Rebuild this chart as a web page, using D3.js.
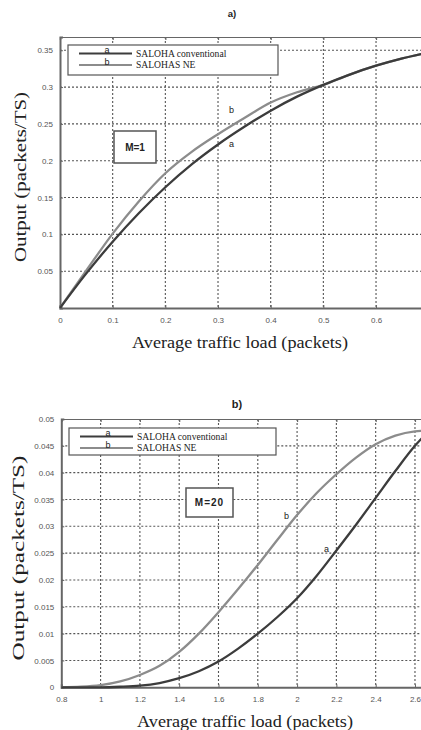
<!DOCTYPE html>
<meta charset="utf-8">
<script src="https://d3js.org/d3.v7.min.js"></script>
<style>
  body { margin: 0; background: #fff; }
  .tick text { font-family: "Liberation Sans", Arial, sans-serif; font-size: 8px; fill: #555; }
  .axis path, .axis line { stroke: #666; }
  .ser { font-family: "Liberation Serif", "Times New Roman", serif; fill: #222; }
  .sans { font-family: "Liberation Sans", Arial, sans-serif; fill: #222; }
</style>
<body>
<div id="chart"></div>
<script>
// ---- panel a) M=1
var loadA = [0, 0.05, 0.1, 0.15, 0.2, 0.25, 0.3, 0.35, 0.4, 0.45, 0.5, 0.55, 0.6, 0.65, 0.7]
var convA = [0, 0.047, 0.090, 0.129, 0.164, 0.195, 0.222, 0.246, 0.268, 0.287, 0.303, 0.317, 0.329, 0.339, 0.347]
var neA   = [0, 0.051, 0.101, 0.145, 0.183, 0.212, 0.236, 0.258, 0.279, 0.293, 0.303, 0.317, 0.329, 0.339, 0.347]
var xTicksA = [0, 0.1, 0.2, 0.3, 0.4, 0.5, 0.6]
var yTicksA = [0.05, 0.1, 0.15, 0.2, 0.25, 0.3, 0.35]

// ---- panel b) M=20
var loadB = [0.8, 0.9, 1.0, 1.1, 1.2, 1.3, 1.4, 1.5, 1.6, 1.7, 1.8, 1.9, 2.0, 2.1, 2.2, 2.3, 2.4, 2.5, 2.6, 2.65]
var convB = [0, 0, 0, 0.0001, 0.0003, 0.0008, 0.0017, 0.0030, 0.0048, 0.0072, 0.0100, 0.0131, 0.0166, 0.0208, 0.0255, 0.0303, 0.0353, 0.0403, 0.0450, 0.0470]
var neB   = [0, 0.0001, 0.0004, 0.0011, 0.0023, 0.0040, 0.0066, 0.0100, 0.0140, 0.0183, 0.0228, 0.0275, 0.0321, 0.0362, 0.0397, 0.0428, 0.0453, 0.0469, 0.0477, 0.0478]
var xTicksB = [0.8, 1, 1.2, 1.4, 1.6, 1.8, 2, 2.2, 2.4, 2.6]
var yTicksB = [0, 0.005, 0.01, 0.015, 0.02, 0.025, 0.03, 0.035, 0.04, 0.045, 0.05]

var legendNames = ["SALOHA conventional", "SALOHAS NE"]
var colA = "#3c3c3c", colB = "#8c8c8c"

var svg = d3.select("#chart").append("svg")
    .attr("width", 421).attr("height", 730)

function panel(p) {
    var x = d3.scaleLinear().domain(p.xd).range([p.left, p.right])
    var y = d3.scaleLinear().domain(p.yd).range([p.bottom, p.top])
    var g = svg.append("g")

    // dotted grid, drawn as plain lines
    g.selectAll(".vgrid").data(p.xg).enter().append("line")
        .attr("class", "vgrid")
        .attr("x1", function(d) { return x(d) })
        .attr("x2", function(d) { return x(d) })
        .attr("y1", p.top).attr("y2", p.bottom)
        .attr("stroke", "#555").attr("stroke-width", 1.1).attr("stroke-dasharray", "2,2")
    g.selectAll(".hgrid").data(p.yg).enter().append("line")
        .attr("class", "hgrid")
        .attr("y1", function(d) { return y(d) })
        .attr("y2", function(d) { return y(d) })
        .attr("x1", p.left).attr("x2", p.right)
        .attr("stroke", "#555").attr("stroke-width", 1.1).attr("stroke-dasharray", "2,2")

    // top border with inner ticks
    g.append("g").attr("class", "axis")
        .attr("transform", "translate(0," + p.top + ")")
        .call(d3.axisTop(x).tickValues(p.xt).tickSize(-3).tickFormat(""))
        .selectAll("path, line").attr("stroke-width", 1.2)

    // bottom axis
    var bx = g.append("g").attr("class", "axis")
        .attr("transform", "translate(0," + p.bottom + ")")
        .call(d3.axisBottom(x).tickValues(p.xt).tickSize(-3).tickPadding(9).tickFormat(d3.format("")))
    bx.select(".domain").attr("stroke-width", 2)

    // left axis
    var ly = g.append("g").attr("class", "axis")
        .attr("transform", "translate(" + p.left + ",0)")
        .call(d3.axisLeft(y).tickValues(p.yt).tickSize(-3).tickPadding(7).tickFormat(d3.format("")))
    ly.select(".domain").attr("stroke-width", 2)

    // curves
    var line = d3.line().curve(d3.curveMonotoneX)
        .x(function(d) { return x(d[0]) })
        .y(function(d) { return y(d[1]) })
    g.append("path").datum(d3.zip(p.load, p.ne))
        .attr("fill", "none").attr("stroke", colB).attr("stroke-width", 2.3).attr("d", line)
    g.append("path").datum(d3.zip(p.load, p.conv))
        .attr("fill", "none").attr("stroke", colA).attr("stroke-width", 2.3).attr("d", line)

    // curve labels
    g.append("text").attr("class", "sans").attr("font-size", 9)
        .attr("x", p.labB[0]).attr("y", p.labB[1]).text("b")
    g.append("text").attr("class", "sans").attr("font-size", 9)
        .attr("x", p.labA[0]).attr("y", p.labA[1]).text("a")

    // legend
    var lg = g.append("g")
    lg.append("rect").attr("x", p.leg[0]).attr("y", p.leg[1]).attr("width", p.leg[2]).attr("height", p.leg[3])
        .attr("fill", "#fff").attr("stroke", "#555").attr("stroke-width", 1.2)
    var ly0 = [p.leg[1] + 8.5, p.leg[1] + 20]
    ;[colA, colB].forEach(function(c, i) {
        lg.append("line").attr("x1", p.leg[0] + 11).attr("x2", p.leg[0] + 64)
            .attr("y1", ly0[i]).attr("y2", ly0[i]).attr("stroke", c).attr("stroke-width", 2)
        lg.append("text").attr("class", "sans").attr("font-size", 9).attr("text-anchor", "middle")
            .attr("x", p.leg[0] + 39).attr("y", ly0[i] - 0.5).text(i == 0 ? "a" : "b")
        lg.append("text").attr("class", "ser").attr("font-size", 9.6)
            .attr("x", p.leg[0] + 68).attr("y", ly0[i] + 3).text(legendNames[i])
    })

    // M box
    g.append("rect").attr("x", p.mbox[0]).attr("y", p.mbox[1]).attr("width", p.mbox[2]).attr("height", p.mbox[3])
        .attr("fill", "#fff").attr("stroke", "#555").attr("stroke-width", 1.5)
    g.append("text").attr("class", "sans").attr("font-size", 10).attr("font-weight", "bold")
        .attr("letter-spacing", p.mspace).attr("text-anchor", "middle")
        .attr("x", p.mbox[0] + p.mbox[2] / 2).attr("y", p.mbox[1] + p.mbox[3] / 2 + 3.5).text(p.mtext)

    // titles and axis labels
    g.append("text").attr("class", "sans").attr("font-size", p.tsize).attr("font-weight", "bold")
        .attr("text-anchor", "middle").attr("x", p.title[0]).attr("y", p.title[1]).text(p.ttext)
    g.append("text").attr("class", "ser").attr("font-size", 16.5).attr("text-anchor", "middle")
        .attr("x", p.xlab[0]).attr("y", p.xlab[1])
        .attr("textLength", 216).attr("lengthAdjust", "spacingAndGlyphs")
        .text("Average traffic load (packets)")
    g.append("text").attr("class", "ser").attr("font-size", 16.5).attr("text-anchor", "middle")
        .attr("transform", "translate(" + p.ylab[0] + "," + p.ylab[1] + ") rotate(-90)")
        .attr("textLength", p.ylab[2]).attr("lengthAdjust", "spacingAndGlyphs")
        .text("Output (packets/TS)")
}

panel({
    xd: [0, 0.7], yd: [0, 0.368], left: 60, right: 428.7, top: 37, bottom: 308,
    load: loadA, conv: convA, ne: neA,
    xt: xTicksA, yt: yTicksA, xg: xTicksA.slice(1), yg: yTicksA,
    labA: [229, 147], labB: [229, 113],
    leg: [68, 45, 210, 30], mbox: [114, 131, 42, 32], mtext: "M=1", mspace: 0,
    title: [232, 17], ttext: "a)", tsize: 9.5,
    xlab: [240, 348], ylab: [26, 177, 170]
})

panel({
    xd: [0.8, 2.65], yd: [0, 0.05], left: 61.3, right: 424.8, top: 419, bottom: 687.3,
    load: loadB, conv: convB, ne: neB,
    xt: xTicksB, yt: yTicksB, xg: xTicksB.slice(1), yg: yTicksB.slice(1, 10),
    labA: [324, 552], labB: [284, 519],
    leg: [69, 428, 207, 27], mbox: [186, 488, 47, 29], mtext: "M=20", mspace: 1,
    title: [237, 408], ttext: "b)", tsize: 11,
    xlab: [245, 727], ylab: [24, 558, 205]
})
</script>
</body>
